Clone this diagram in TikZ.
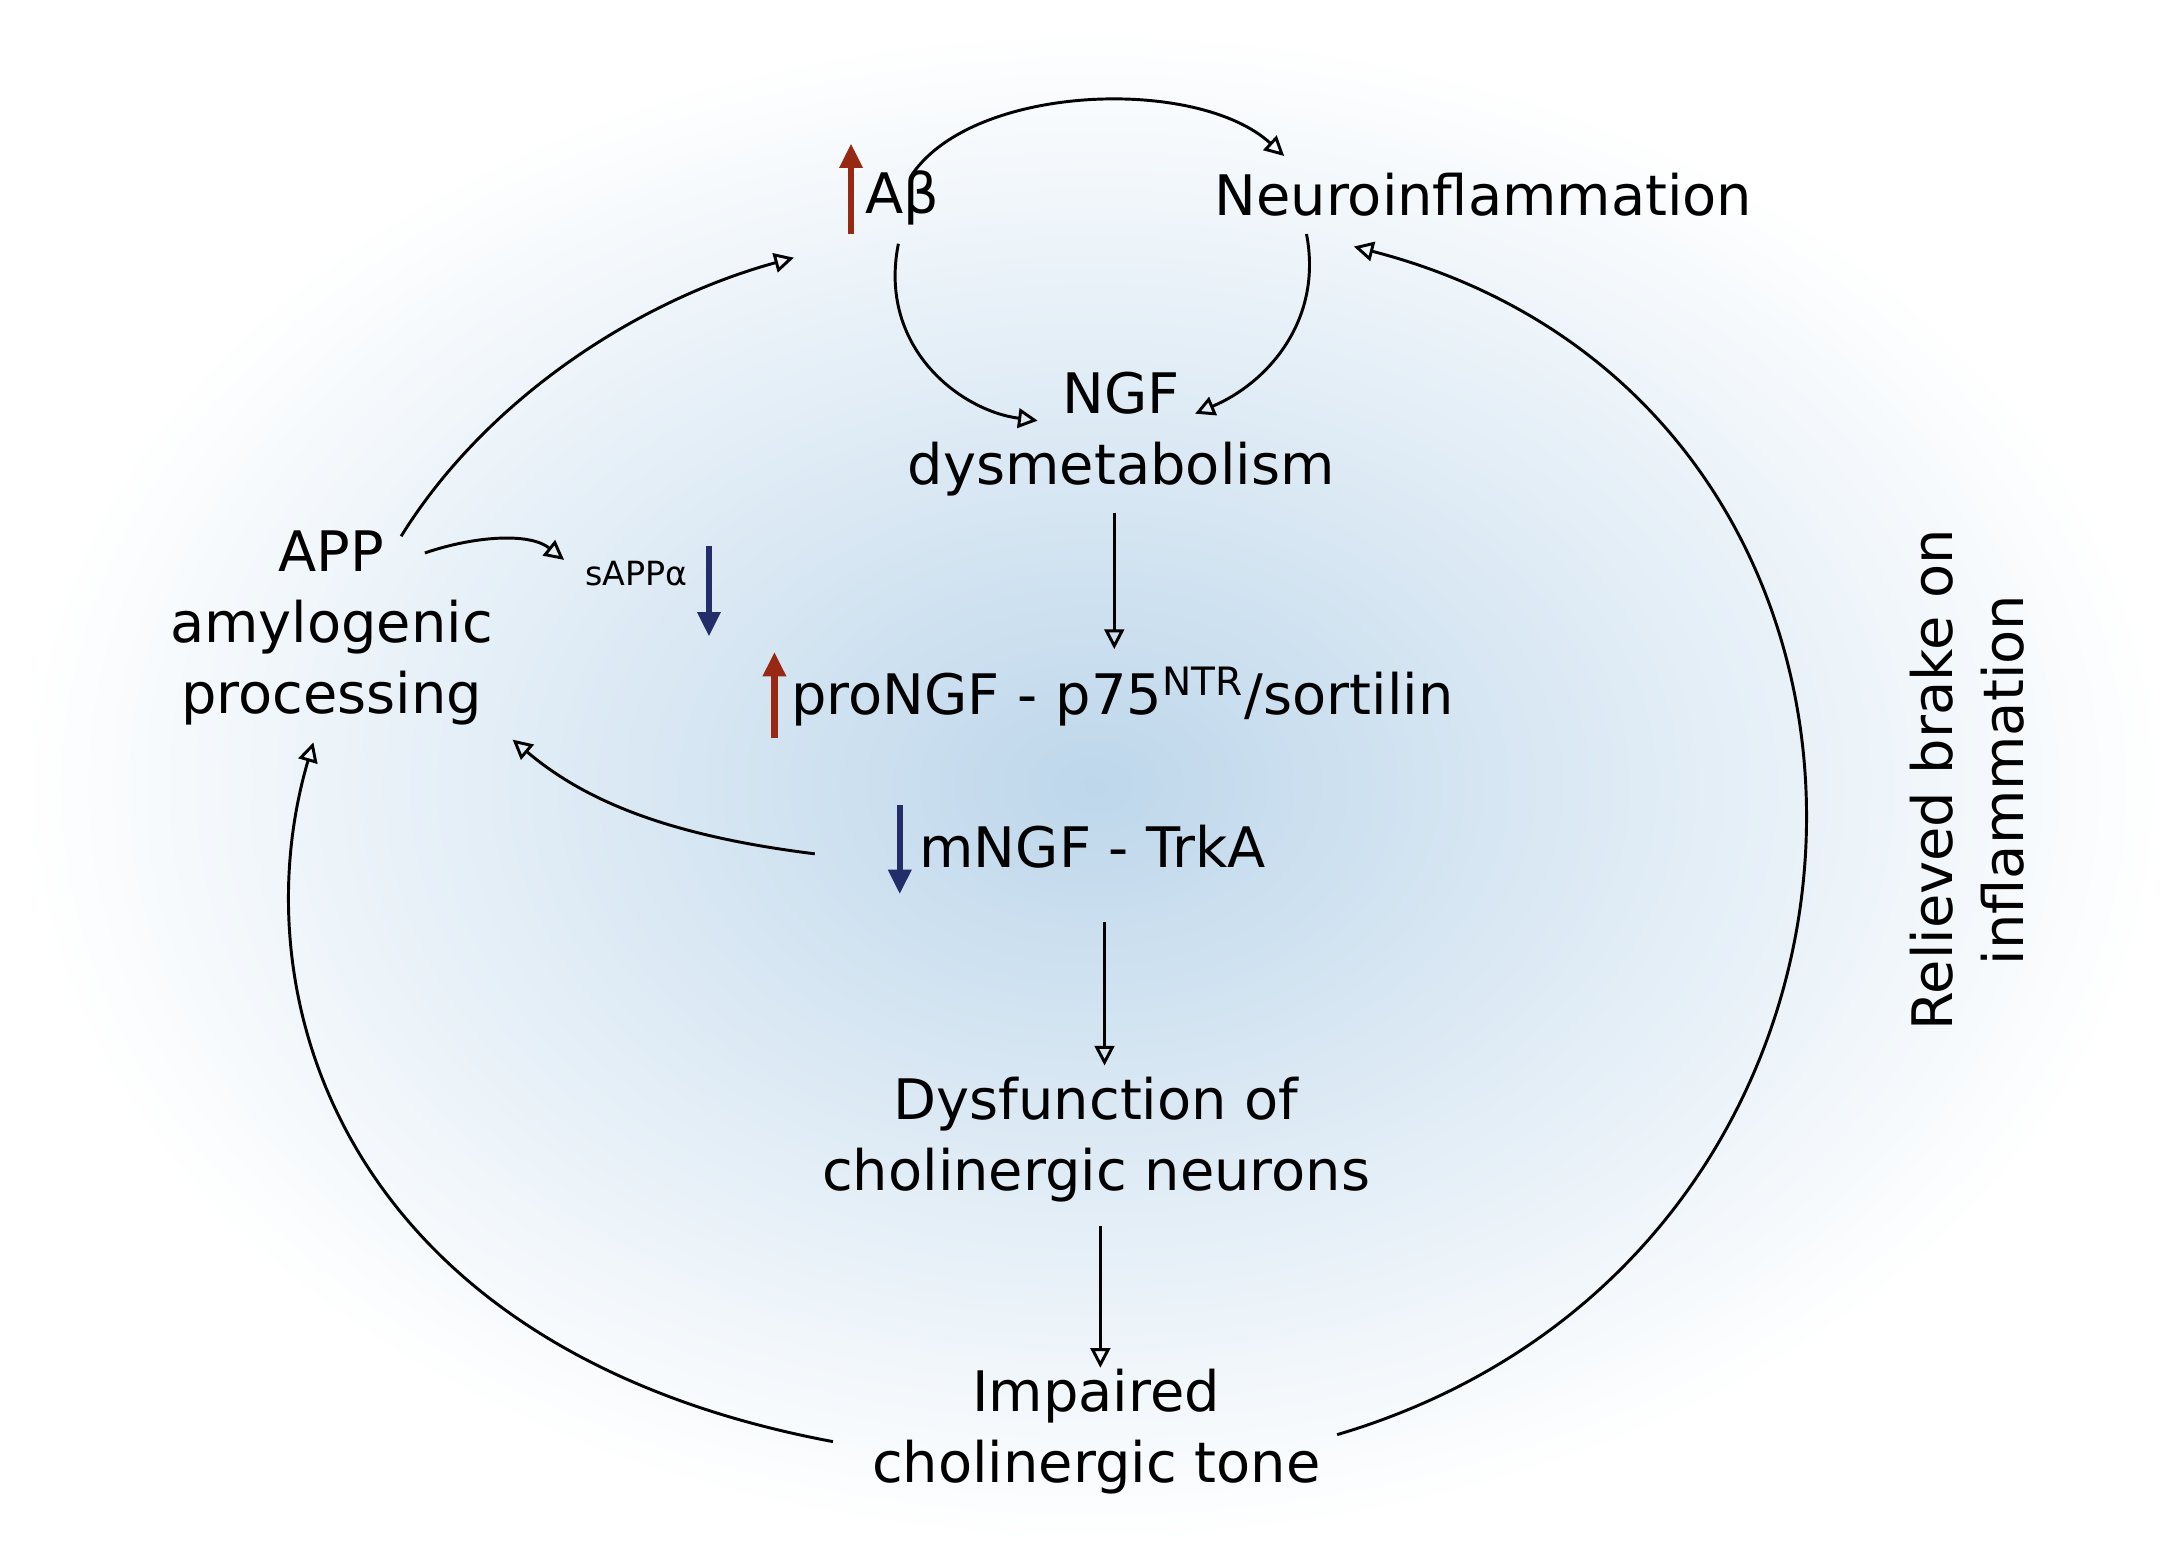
\documentclass[tikz,border=0pt]{standalone}
\usepackage{fontspec}
\setmainfont{DejaVu Sans}
\usetikzlibrary{arrows.meta}
\definecolor{upred}{RGB}{150,40,20}
\definecolor{dnblue}{RGB}{35,45,105}
\definecolor{bgblue}{RGB}{190,215,235}
\begin{document}
\begin{tikzpicture}[x=0.01cm,y=-0.01cm,
  txt/.style={font=\fontsize{11.4}{14.5}\selectfont,align=center,inner sep=1pt},
  conn/.style={line width=0.6pt,-{Triangle[open,length=4pt,width=4pt]}},
  up/.style={upred,line width=1.3pt,-{Triangle[length=5pt,width=4.5pt]}},
  dn/.style={dnblue,line width=1.3pt,-{Triangle[length=5pt,width=4.5pt]}}]
\useasboundingbox (0,0) rectangle (1568,1124);
\fill[white] (0,0) rectangle (1568,1124);
\shade[inner color=bgblue,outer color=white] (15,20) rectangle (1555,1108);
\node[txt] (ab) at (648,142) {Aβ};
\node[txt] (ni) at (1065,140) {Neuroinflammation};
\node[txt] (ngf) at (805,312) {NGF\\dysmetabolism};
\node[txt] (app) at (238,451) {APP\\amylogenic\\processing};
\node[font=\fontsize{6.8}{8}\selectfont,inner sep=1pt] (sapp) at (457,412) {sAPPα};
\node[txt,anchor=west] (pro) at (564,500) {proNGF - p75\textsuperscript{NTR}/sortilin};
\node[txt,anchor=west] (m) at (656,608) {mNGF - TrkA};
\node[txt] (dys) at (787,818) {Dysfunction of\\cholinergic neurons};
\node[txt] (imp) at (787,1028) {Impaired\\cholinergic tone};
\node[txt,rotate=90] (rel) at (1412,560) {Relieved brake on\\inflammation};
% coloured indicators
\coordinate (a1) at (611,168); \coordinate (a2) at (611,103);
\draw[up] (a1) -- (a2);
\coordinate (p1) at (556,530); \coordinate (p2) at (556,468);
\draw[up] (p1) -- (p2);
\coordinate (s1) at (509,392); \coordinate (s2) at (509,457);
\draw[dn] (s1) -- (s2);
\coordinate (m1) at (646,578); \coordinate (m2) at (646,642);
\draw[dn] (m1) -- (m2);
% connectors
\draw[conn] (655,125) .. controls (700,60) and (860,55) .. (922,112);
\draw[conn] (645,175) .. controls (630,250) and (690,295) .. (745,302);
\draw[conn] (938,168) .. controls (950,230) and (910,275) .. (858,297);
\draw[conn] (800,368) -- (800,466);
\draw[conn] (288,385) .. controls (350,285) and (460,215) .. (570,185);
\draw[conn] (305,397) .. controls (340,385) and (380,382) .. (405,402);
\draw[conn] (585,613) .. controls (480,600) and (420,575) .. (368,531);
\draw[conn] (793,662) -- (793,765);
\draw[conn] (790,880) -- (790,982);
\draw[conn] (598,1035) .. controls (250,970) and (170,720) .. (225,533);
\draw[conn] (960,1030) .. controls (1400,900) and (1410,290) .. (972,177);
\end{tikzpicture}
\end{document}
